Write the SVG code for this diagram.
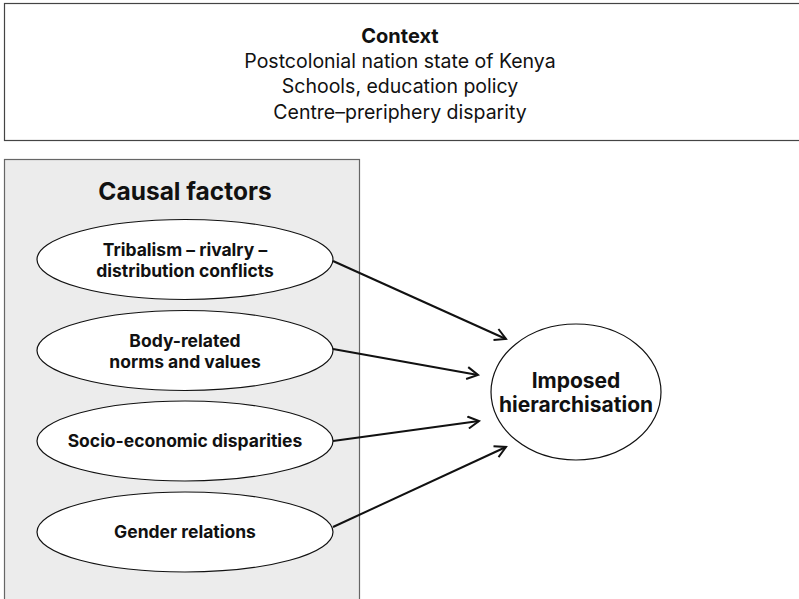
<svg xmlns="http://www.w3.org/2000/svg" width="799" height="599" viewBox="0 0 799 599">
  <defs>
    <style>
      text { font-family: Inter, "Noto Sans", "Liberation Sans", sans-serif; fill: #111; text-anchor: middle; }
      .ctx { font-size: 19.5px; }
      .ctx-title { font-size: 20px; font-weight: 700; }
      .panel-title { font-size: 24.5px; font-weight: 700; }
      .lbl { font-size: 17.5px; font-weight: 700; }
      .out { font-size: 21px; font-weight: 700; }
      .node { fill: #fff; stroke: #111; stroke-width: 1.2; }
      .edge { fill: none; stroke: #111; stroke-width: 2; marker-end: url(#open-arrow); }
    </style>
    <marker id="open-arrow" viewBox="0 0 14 14" refX="12" refY="7" markerWidth="14" markerHeight="14" markerUnits="userSpaceOnUse" orient="auto">
      <path d="M1,1 L12,7 L1,13" fill="none" stroke="#111" stroke-width="2"/>
    </marker>
  </defs>

  <rect width="799" height="599" fill="#fff"/>

  <!-- Context frame -->
  <g id="context">
    <rect x="4.5" y="3.5" width="800" height="137" fill="#fff" stroke="#444" stroke-width="1.2"/>
    <text class="ctx-title" x="400" y="43">Context</text>
    <text class="ctx" x="400" y="68">Postcolonial nation state of Kenya</text>
    <text class="ctx" x="400" y="93">Schools, education policy</text>
    <text class="ctx" x="400" y="119">Centre–preriphery disparity</text>
  </g>

  <!-- Causal factors panel -->
  <g id="causal-factors">
    <rect x="4.5" y="159.5" width="355" height="450" fill="#ececec" stroke="#666" stroke-width="1.2"/>
    <text class="panel-title" x="185" y="200">Causal factors</text>
  </g>

  <g id="tribalism">
    <ellipse class="node" cx="185" cy="259.5" rx="148" ry="40"/>
    <text class="lbl" x="185" y="256">Tribalism – rivalry –</text>
    <text class="lbl" x="185" y="277">distribution conflicts</text>
  </g>

  <g id="body-norms">
    <ellipse class="node" cx="185" cy="350.5" rx="148" ry="40"/>
    <text class="lbl" x="185" y="347">Body-related</text>
    <text class="lbl" x="185" y="368">norms and values</text>
  </g>

  <g id="socio-economic">
    <ellipse class="node" cx="185" cy="441" rx="148" ry="40"/>
    <text class="lbl" x="185" y="447">Socio-economic disparities</text>
  </g>

  <g id="gender">
    <ellipse class="node" cx="185" cy="532" rx="148" ry="40"/>
    <text class="lbl" x="185" y="538">Gender relations</text>
  </g>

  <g id="imposed-hierarchisation">
    <ellipse class="node" cx="576" cy="392" rx="85" ry="68"/>
    <text class="out" x="576" y="388">Imposed</text>
    <text class="out" x="576" y="412">hierarchisation</text>
  </g>

  <!-- Connectors -->
  <g id="connectors">
    <line class="edge" x1="333" y1="261" x2="506" y2="339"/>
    <line class="edge" x1="333" y1="349" x2="478" y2="375"/>
    <line class="edge" x1="333" y1="441" x2="479" y2="421"/>
    <line class="edge" x1="333" y1="527" x2="506" y2="447"/>
  </g>
</svg>
